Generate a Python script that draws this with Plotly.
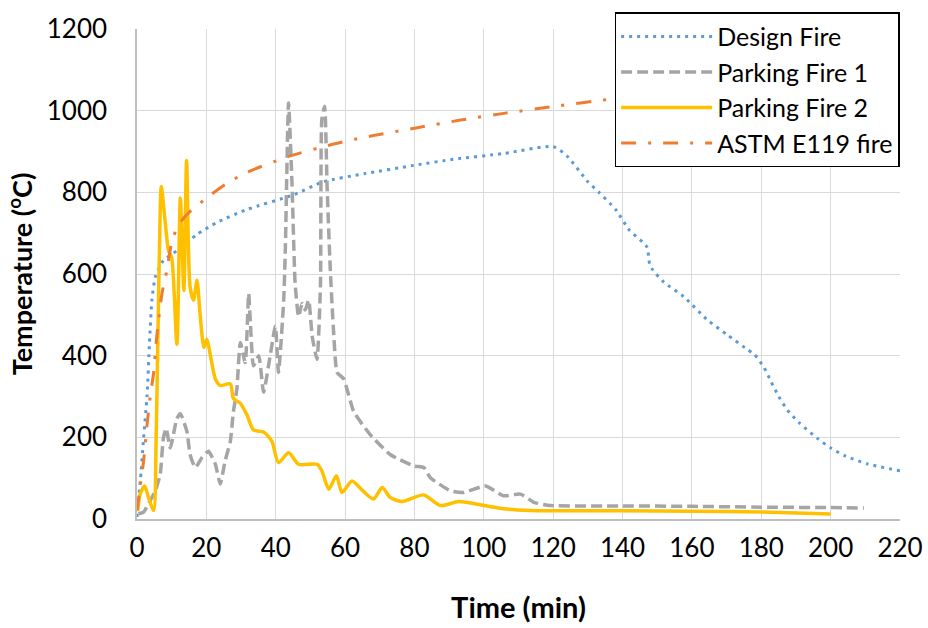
import plotly.graph_objects as go

# ---------------- data ----------------
design_t = [0, 1.2, 1.9, 2.9, 3.6, 4.3, 5.3, 7.6, 11.5, 17.3, 23, 31.7, 45.2, 53.8, 65.8, 79.8,
            91.3, 105.7, 120, 124, 129.8, 133.2, 138, 142, 145.7, 147.1, 147.8, 148.8, 151.9,
            157.7, 164.4, 170.2, 176, 178, 180.8, 182.9, 185.1, 187.5, 190.9, 196.1, 200, 204.3,
            210.6, 220]
design_T = [5, 118, 198, 303, 432, 536, 593, 633, 657, 697, 726, 758, 794, 826, 846, 866,
            881, 895, 912, 889, 828, 800, 758, 707, 679, 665, 625, 609, 580,
            544, 488, 451, 415, 403, 371, 335, 299, 267, 236, 198, 174, 154,
            135, 118]

pf1_t = [0.4, 1.9, 3.8, 5.3, 6.7, 7.6, 8.4, 9.6, 11.5, 12.5, 14.4, 15.3, 16.8, 18.7, 20.6,
         22.6, 24, 25.4, 26.9, 27.8, 28.8, 29.8, 31.2, 32.2, 32.7, 33.6, 35.1, 36.5, 38.4,
         39.9, 40.8, 42.3, 42.8, 43.7, 44.7, 45.6, 46.6, 47.6, 48.5, 49.5, 50.5, 51.9, 52.9,
         53.3, 54.1, 54.8, 55.7, 56.7, 57.7, 59.6, 62.5, 67.3, 73, 79.8, 82.7, 84.6, 90.4,
         94.2, 100.5, 105.7, 110.6, 114.4, 119.2, 140, 160, 180, 200, 209.6]
pf1_T = [13, 17, 45, 69, 110, 198, 222, 174, 246, 258, 214, 158, 126, 150, 166,
         134, 86, 142, 190, 263, 319, 432, 383, 552, 480, 375, 400, 311, 400,
         472, 359, 536, 673, 1019, 818, 576, 496, 528, 512, 536, 448, 391, 576,
         979, 1011, 818, 617, 456, 359, 343, 263, 206, 158, 130, 126, 101, 69,
         65, 81, 57, 61, 41, 33, 32, 31, 29, 28, 27]

pf2_t = [0.25, 0.9, 2.2, 3.3, 4.8, 5.5, 6.0, 6.5, 7.0, 8.1, 9.1, 10.0, 11.5, 12.5, 13.5,
         14.3, 15.3, 16.3, 17.3, 18.2, 19.3, 20.1, 22.6, 24, 26.9, 27.8, 29.8, 31.7, 33.6,
         36.5, 38.9, 40.8, 43.7, 46.6, 51.9, 53.3, 55.3, 57.5, 59.1, 62, 65, 68.2, 70.7, 73,
         76.4, 82.7, 87.5, 92.8, 100, 105.7, 113.4, 120, 140, 160, 180, 200]
pf2_T = [21, 61, 81, 53, 21, 190, 432, 673, 814, 730, 657, 640, 428, 786, 560,
         878, 569, 536, 585, 500, 420, 440, 343, 327, 331, 295, 283, 255, 218,
         213, 190, 138, 162, 134, 134, 118, 73, 106, 65, 93, 70, 49, 77, 53,
         43, 59, 33, 43, 33, 25, 21, 20, 20, 19, 17, 12]

astm_t = [0, 1, 1.9, 2.9, 3.8, 4.8, 5.7, 7.2, 8.6, 10.1, 12, 14.9, 21.1, 25.9, 31.7, 43.7,
          55.7, 63.9, 68.2, 81.2, 93.3, 106.2, 120, 136.5, 160, 190, 220]
astm_T = [20, 85, 142, 231, 299, 359, 448, 552, 609, 681, 721, 750, 793, 822, 849, 888,
          916, 932, 939, 959, 977, 994, 1010, 1028, 1045, 1065, 1080]

x_ticks = list(range(0, 221, 20))
y_ticks = list(range(0, 1201, 200))

FONT = "Lato"

fig = go.Figure()
fig.add_trace(go.Scatter(x=design_t, y=design_T, name="Design Fire", mode="lines",
                         line=dict(color="#5B9BD5", width=3, dash="3px,5px", shape="spline", smoothing=0.6),
                         legendgroup="a"))
fig.add_trace(go.Scatter(x=pf1_t, y=pf1_T, name="Parking Fire 1", mode="lines",
                         line=dict(color="#A5A5A5", width=3.5, dash="11px,5px", shape="spline", smoothing=0.5),
                         legendgroup="b"))
fig.add_trace(go.Scatter(x=pf2_t, y=pf2_T, name="Parking Fire 2", mode="lines",
                         line=dict(color="#FFC000", width=3.5, shape="spline", smoothing=0.7),
                         legendgroup="c"))
fig.add_trace(go.Scatter(x=astm_t, y=astm_T, name="ASTM E119 fire", mode="lines",
                         line=dict(color="#ED7D31", width=3, dash="15px,12px,3px,12px", shape="spline", smoothing=0.6),
                         legendgroup="d"))

fig.update_layout(
    width=928, height=628,
    margin=dict(l=137, r=28, t=22, b=109),
    plot_bgcolor="white", paper_bgcolor="white",
    font=dict(family=FONT, size=26, color="black"),
    showlegend=True,
    legend=dict(x=0.626, y=1.034, xanchor="left", yanchor="top",
                bgcolor="white", bordercolor="black", borderwidth=1.5,
                font=dict(family=FONT, size=25, color="black"),
                tracegroupgap=0, itemwidth=91),
    xaxis=dict(range=[0, 220], tickvals=x_ticks, showgrid=True, gridcolor="#D9D9D9", gridwidth=1.3,
               showline=True, linecolor="#BFBFBF", linewidth=1.5, zeroline=False, automargin=False,
               ticks="", ticklabelstandoff=5, tickfont=dict(size=26),
               title=dict(text="<b>Time (min)</b>", font=dict(size=29), standoff=36)),
    yaxis=dict(range=[0, 1200], tickvals=y_ticks, showgrid=True, gridcolor="#D9D9D9", gridwidth=1.3,
               showline=True, linecolor="#BFBFBF", linewidth=1.5, zeroline=False, automargin=False,
               ticks="", ticklabelstandoff=23, tickfont=dict(size=26),
               title=dict(text="<b>Temperature (<sup>o</sup>C)</b>", font=dict(size=27), standoff=6)),
)

fig.write_html("out.html")
